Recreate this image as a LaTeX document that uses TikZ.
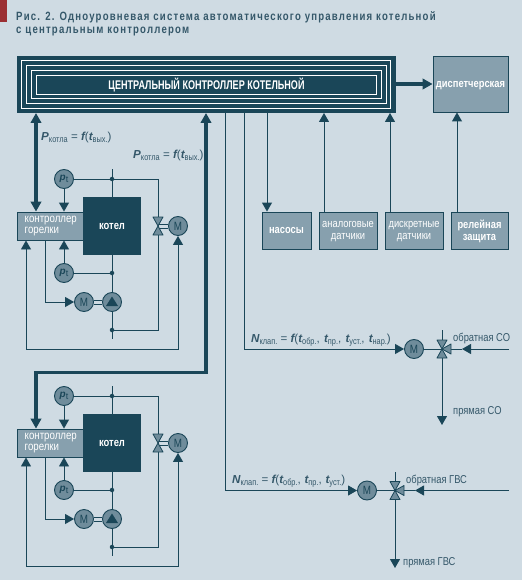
\documentclass[tikz,border=0pt]{standalone}
\usepackage{fontspec}
\usetikzlibrary{arrows.meta,calc}
\setmainfont{Liberation Sans}
\newfontfamily\nar[FakeStretch=0.82]{Liberation Sans}
\newfontfamily\narr[FakeStretch=0.72]{Liberation Sans}
\newfontfamily\ttl[FakeStretch=0.8,LetterSpace=10]{Liberation Sans}
\definecolor{bgc}{HTML}{CFDBE3}
\definecolor{dk}{HTML}{1A4658}
\definecolor{mid}{HTML}{87A0AE}
\definecolor{cir}{HTML}{6F8C9B}
\definecolor{txt}{HTML}{35586A}
\definecolor{redb}{HTML}{9B2F33}
\newcommand{\sbx}[1]{\raisebox{-2.2pt}{\fontsize{9}{9}\selectfont\nar #1}}
\newcommand{\bi}[1]{{\bfseries\itshape #1}}
\tikzset{
 x=1pt,y=-1pt,
 thinl/.style={draw=dk,line width=0.9pt},
 thinar/.style={thinl,-{Triangle[length=9pt,width=10pt]}},
 thinbar/.style={thinl,{Triangle[length=9pt,width=10pt]}-{Triangle[length=9pt,width=10pt]}},
 thick line/.style={draw=dk,line width=3.6pt},
 thickar/.style={thick line,-{Triangle[length=10pt,width=10.5pt]}},
 thickbar/.style={thick line,{Triangle[length=10pt,width=10.5pt]}-{Triangle[length=10pt,width=10.5pt]}},
 box/.style={draw=dk,line width=0.9pt,fill=mid,inner sep=0pt,text=white,align=center,font=\nar\fontsize{11.4}{11.5}\selectfont,text depth=0pt},
 bbox/.style={box,font=\nar\bfseries\fontsize{11.4}{11.5}\selectfont},
 circ/.style={circle,draw=dk,line width=0.9pt,fill=cir,inner sep=0pt,minimum size=19pt,text=dk},
 jn/.style={circle,fill=dk,inner sep=0pt,minimum size=4.5pt},
 lbl/.style={inner sep=0pt,anchor=west,text=txt,font=\nar\fontsize{11.4}{11.5}\selectfont},
 fml/.style={lbl,font=\fontsize{11.6}{12}\selectfont},
 vtri/.style={draw=dk,line width=0.8pt,fill=cir,line join=round},
 whl/.style={draw=white,line width=0.9pt},
}
% boiler unit: #1 name suffix, #2 vertical shift
\newcommand{\boilerunit}[2]{%
\begin{scope}[shift={(0,#2)}]
 \node[box,minimum width=66pt,minimum height=28pt] (ctrl#1) at (50,226) {};
 \node[inner sep=0pt,anchor=west,text=white,align=left,font=\nar\fontsize{11.8}{11}\selectfont] (ctrltxt#1) at (24.5,226) {контроллер\\горелки};
 \node[draw=none,fill=dk,minimum size=58pt,inner sep=0pt,text=white,font=\nar\bfseries\fontsize{11.5}{11}\selectfont] (boil#1) at (112,226) {котел};
 \node[circ] (pa#1) at (64,179) {\bi{p}\raisebox{-1.5pt}{\fontsize{9}{9}\selectfont t}};
 \node[circ] (pb#1) at (64,273) {\bi{p}\raisebox{-1.5pt}{\fontsize{9}{9}\selectfont t}};
 \node[circ,font=\nar\fontsize{12}{12}\selectfont] (mot#1) at (84,302) {М};
 \node[circ] (pump#1) at (112,302) {};
 \node[circ,font=\nar\fontsize{12}{12}\selectfont] (vmot#1) at (178,226) {М};
 \coordinate (val#1) at (158,226);
 \node[jn] (ja#1) at (112,179) {};
 \node[jn] (jb#1) at (112,273) {};
 \node[jn] (jc#1) at (112,330) {};
 \coordinate (st#1) at (112,169);
 \coordinate (sb#1) at (112,339);
 \coordinate (cr#1) at (158,179);
 \coordinate (crb#1) at (158,330);
 \coordinate (cx#1) at (45,226);
 \coordinate (lx#1) at (26,226);
 \coordinate (lb#1) at (26,349);
 % connectors
 \draw[thinl] (pa#1) -- (ja#1) -- (cr#1) -- (crb#1) -- (jc#1);
 \draw[thinl] (st#1) -- (ja#1) -- (boil#1.north);
 \draw[thinl] (boil#1.south) -- (jb#1) -- (pump#1);
 \draw[thinl] (pump#1) -- (jc#1) -- (sb#1);
 \draw[thinl] (pb#1) -- (jb#1);
 \draw[thinar] (pa#1) -- (pa#1 |- ctrl#1.north);
 \draw[thinar] (pb#1) -- (pb#1 |- ctrl#1.south);
 \draw[thinar] (cx#1 |- ctrl#1.south) |- (mot#1.west);
 \draw[thinbar] (lx#1 |- ctrl#1.south) -- (lb#1) -| (vmot#1.south);
 \draw[thinl] ($(mot#1.east)+(0,-2)$) -- ($(pump#1.west)+(0,-2)$);
 \draw[thinl] ($(mot#1.east)+(0,2)$) -- ($(pump#1.west)+(0,2)$);
 \draw[thinl] ($(val#1)+(0,-2)$) -- ($(vmot#1.west)+(0,-2)$);
 \draw[thinl] ($(val#1)+(0,2)$) -- ($(vmot#1.west)+(0,2)$);
 \fill[dk] ($(pump#1)+(0,-5.5)$) -- ($(pump#1)+(6,4)$) -- ($(pump#1)+(-6,4)$) -- cycle;
 \draw[vtri] (val#1) -- ++(-5,-9) -- ++(10,0) -- cycle;
 \draw[vtri] (val#1) -- ++(-5,9) -- ++(10,0) -- cycle;
\end{scope}}
% three-way valve
\newcommand{\threeway}[1]{%
 \draw[vtri] (#1) -- ++(-5,-9) -- ++(10,0) -- cycle;
 \draw[vtri] (#1) -- ++(-5,9) -- ++(10,0) -- cycle;
 \draw[vtri] (#1) -- ++(9,-5) -- ++(0,10) -- cycle;}
\begin{document}
\begin{tikzpicture}
\useasboundingbox (0,0) rectangle (522,580);
\fill[bgc] (0,0) rectangle (522,580);
\fill[redb] (0,0) rectangle (7,22);
% title
\node[inner sep=0pt,anchor=west,text=txt,font=\ttl\bfseries\fontsize{12}{12}\selectfont] (t1) at (16,17) {Рис. 2. Одноуровневая система автоматического управления котельной};
\node[inner sep=0pt,anchor=west,text=txt,font=\ttl\bfseries\fontsize{12}{12}\selectfont] (t2) at (16,31.5) {с центральным контроллером};
% central controller
\node[fill=dk,inner sep=0pt,minimum width=379pt,minimum height=57pt] (main) at (206.5,84.5) {};
\draw[whl] (21.5,60.5) rectangle (390.7,108.4);
\draw[whl] (26.2,65.3) rectangle (386,103.4);
\draw[whl] (31,70) rectangle (381.6,98.7);
\draw[whl] (36,75.3) rectangle (376.7,94.3);
\node[inner sep=0pt,text=white,font=\narr\bfseries\fontsize{12.6}{13}\selectfont] (maintxt) at (206.5,85) {ЦЕНТРАЛЬНЫЙ КОНТРОЛЛЕР КОТЕЛЬНОЙ};
% right boxes
\node[bbox,minimum width=75pt,minimum height=56pt] (disp) at (470.5,84) {диспетчерская};
\node[bbox,minimum width=49pt,minimum height=37pt] (nas) at (286.5,230.5) {насосы};
\node[box,minimum width=58pt,minimum height=37pt] (ana) at (348,230.5) {аналоговые\\датчики};
\node[box,minimum width=58pt,minimum height=37pt] (dis) at (414,230.5) {дискретные\\датчики};
\node[bbox,minimum width=57pt,minimum height=37pt] (rel) at (479.5,230.5) {релейная\\защита};
% units
\boilerunit{A}{0}
\boilerunit{B}{217}
% coordinates on the central box
\coordinate (mA) at (36,113);
\coordinate (mB) at (206,113);
\coordinate (mC) at (225,113);
\coordinate (mD) at (244,113);
\coordinate (mE) at (267,113);
\coordinate (mF) at (324,113);
\coordinate (mG) at (390,113);
\coordinate (rl) at (457,112);
\coordinate (bendA) at (206,372.5);
\coordinate (bendB) at (36,372.5);
% thick
\draw[thickbar] (mA) -- (mA |- ctrlA.north);
\draw[thickbar,line join=miter] (mB) -- (bendA) -- (bendB) -- (bendB |- ctrlB.north);
\draw[thickar] (main.east |- disp.west) -- (disp.west);
% thin
\draw[thinar] (mE) -- (mE |- nas.north);
\draw[thinar] (mF |- ana.north) -- (mF);
\draw[thinar] (mG |- dis.north) -- (mG);
\draw[thinar] (rl |- rel.north) -- (rl |- disp.south);
% heating
\node[circ,font=\nar\fontsize{12}{12}\selectfont] (m1) at (414,349) {М};
\coordinate (v1) at (442,349);
\coordinate (v1t) at (442,330);
\coordinate (v1b) at (442,425);
\coordinate (v1r) at (509,349);
\coordinate (v1a) at (462,349);
\draw[thinar] (mD) |- (m1.west);
\draw[thinl] (m1) -- (v1);
\draw[thinl] (v1t) -- (v1);
\draw[thinar] (v1) -- (v1b);
\draw[thinar] (v1r) -- (v1a);
\draw[thinl] (v1a) -- (v1);
\threeway{v1}
\node[circ,font=\nar\fontsize{12}{12}\selectfont] (m2) at (367,490.5) {М};
\coordinate (v2) at (395,490.5);
\coordinate (v2t) at (395,472);
\coordinate (v2b) at (395,568);
\coordinate (v2r) at (509,490.5);
\coordinate (v2a) at (415,490.5);
\draw[thinar] (mC) |- (m2.west);
\draw[thinl] (m2) -- (v2);
\draw[thinl] (v2t) -- (v2);
\draw[thinar] (v2) -- (v2b);
\draw[thinar] (v2r) -- (v2a);
\draw[thinl] (v2a) -- (v2);
\threeway{v2}
% labels
\node[lbl] (l1) at (453,338) {обратная СО};
\node[lbl] (l2) at (453,412) {прямая СО};
\node[lbl] (l3) at (406,480) {обратная ГВС};
\node[lbl] (l4) at (403,563) {прямая ГВС};
\node[fml] (f1) at (41,137) {\bi{P}\sbx{котла} = \bi{f}(\bi{t}\sbx{вых.})};
\node[fml] (f2) at (133,155) {\bi{P}\sbx{котла} = \bi{f}(\bi{t}\sbx{вых.})};
\node[fml] (f3) at (251,340) {\bi{N}\sbx{клап.} = \bi{f}(\bi{t}\sbx{обр.},\hspace{1pt} \bi{t}\sbx{пр.},\hspace{1pt} \bi{t}\sbx{уст.},\hspace{1pt} \bi{t}\sbx{нар.})};
\node[fml] (f4) at (232,481) {\bi{N}\sbx{клап.} = \bi{f}(\bi{t}\sbx{обр.},\hspace{0.5pt} \bi{t}\sbx{пр.},\hspace{0.5pt} \bi{t}\sbx{уст.})};
\end{tikzpicture}
\end{document}
